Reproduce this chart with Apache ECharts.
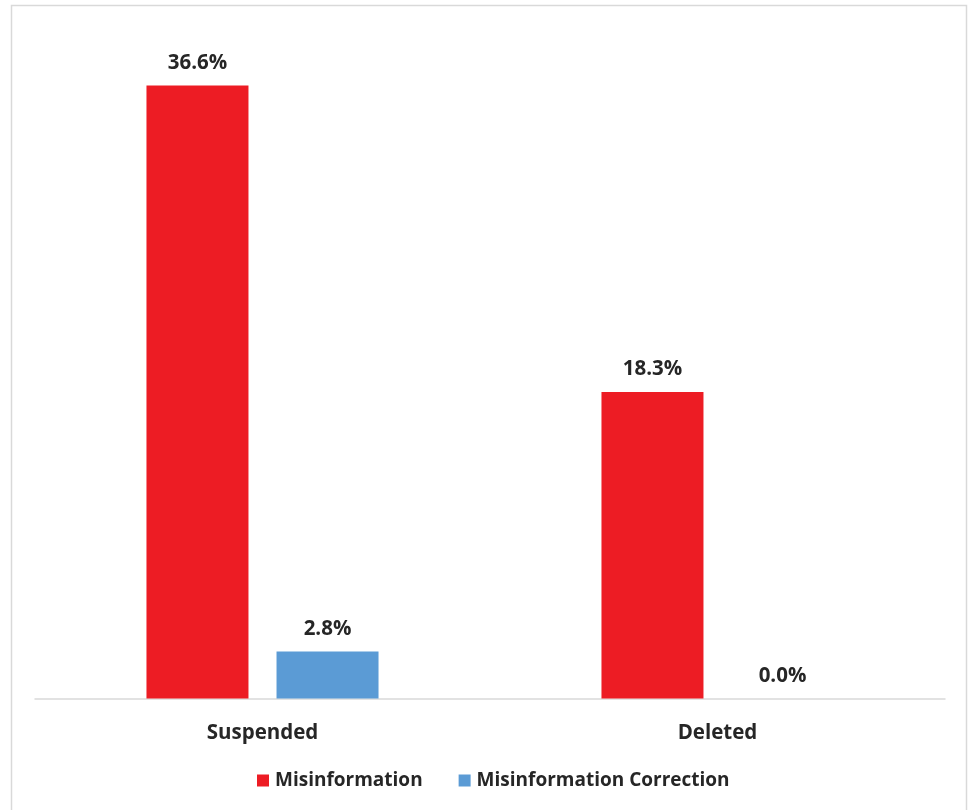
<!DOCTYPE html>
<html><head><meta charset="utf-8">
<script src="https://cdn.jsdelivr.net/npm/echarts@6/dist/echarts.min.js"></script>
<style>html,body{margin:0;padding:0;background:#fff}#c{width:969px;height:810px}</style>
</head><body><div id="c"></div>
<script>
const categories = ['Suspended', 'Deleted'];
const misinformation = [36.6, 18.3];
const misinformationCorrection = [2.8, 0.0];
const seriesNames = ['Misinformation', 'Misinformation Correction'];

const FONT = '"Open Sans", "Liberation Sans", sans-serif';
const chart = echarts.init(document.getElementById('c'), null, {renderer: 'canvas'});
const labelStyle = {
  show: true, position: 'top', distance: 12,
  formatter: p => p.value.toFixed(1) + '%',
  fontFamily: FONT, fontWeight: 'bold', fontSize: 20.5, color: '#262626'
};
chart.setOption({
  animation: false,
  backgroundColor: '#fff',
  graphic: [{
    type: 'rect', shape: {x: 11.5, y: 5.5, width: 955, height: 820},
    style: {fill: 'none', stroke: '#d9d9d9', lineWidth: 1.5}, silent: true, z: -1
  }],
  grid: {left: 35, right: 24, top: 28.5, bottom: 111.5},
  legend: {
    bottom: 15, left: 252, itemWidth: 12, itemHeight: 12, itemGap: 36,
    icon: 'rect',
    textStyle: {fontFamily: FONT, fontWeight: 'bold', fontSize: 19, color: '#262626', padding: [0, 0, 0, 1]},
    data: seriesNames
  },
  xAxis: {
    type: 'category', data: categories,
    axisLine: {lineStyle: {color: '#d9d9d9', width: 1.5}},
    axisTick: {show: false},
    axisLabel: {margin: 24, fontFamily: FONT, fontWeight: 'bold', fontSize: 20.5, color: '#262626'}
  },
  yAxis: {type: 'value', min: 0, max: 40, show: false, splitLine: {show: false}},
  series: [
    {name: seriesNames[0], type: 'bar', data: misinformation, barGap: '27.5%', barCategoryGap: '49%',
     itemStyle: {color: '#ED1C24'}, label: labelStyle},
    {name: seriesNames[1], type: 'bar', data: misinformationCorrection,
     itemStyle: {color: '#5B9BD5'}, label: labelStyle}
  ]
});
</script></body></html>
